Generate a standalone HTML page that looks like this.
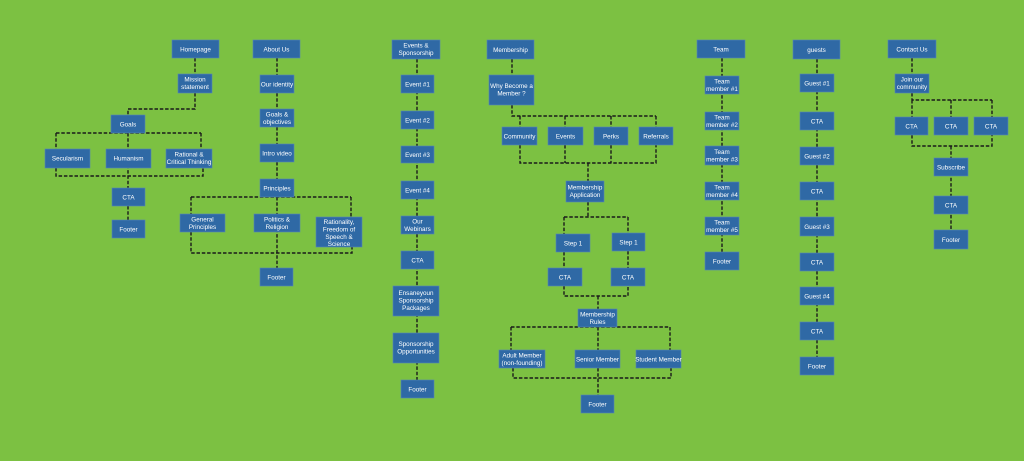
<!DOCTYPE html>
<html><head><meta charset="utf-8"><style>
html,body{margin:0;padding:0;background:#7cc142;}
svg{display:block}
text{font-family:"Liberation Sans",sans-serif;font-size:6.3px;fill:#fff;text-anchor:middle}
rect{fill:#2f69a5;stroke:#5585b8;stroke-width:0.6}
path{fill:none;stroke:#1a1a1a;stroke-width:1.4;stroke-dasharray:3.5 1.8}
</style></head><body>
<svg width="1024" height="461" viewBox="0 0 1024 461" xmlns="http://www.w3.org/2000/svg">
<rect x="0" y="0" width="1024" height="461" style="fill:#7cc142;stroke:none"/>
<path d="M195 58V74M195 93V109H128V115M128 133V188M56 133H201M56 133V149M201 133V149M56 168V176H203V168M128 206V220"/>
<path d="M277 58V75M277 93V109M277 127V144M277 162V179M277 197V268M191 197H351M191 197V214M351 197V217M191 232V253H352V247"/>
<path d="M417 59V380"/>
<path d="M512 59V75M512 105V116H656M520 116V127M565 116V127M611 116V127M656 116V127M520 145V163H656V145M565 145V163M611 145V163M588 163V181M588 202V217M564 217H628M564 217V234M628 217V233M564 252V268M628 251V268M564 286V296H628V286M598 296V309M511 327H670M511 327V350M598 327V350M670 327V350M513 368V378H671V368M598 368V395"/>
<path d="M722 58V252"/>
<path d="M817 59V357"/>
<path d="M912 58V74M912 93V100H992M912 100V117M951 100V117M992 100V117M912 135V146H992V135M951 146V230"/>
<rect x="172" y="40" width="47" height="18"/><text x="195.5" y="51.5">Homepage</text>
<rect x="178" y="74" width="34" height="19"/><text x="195" y="81.5">Mission</text><text x="195" y="89">statement</text>
<rect x="111" y="115" width="34" height="18"/><text x="128" y="126.5">Goals</text>
<rect x="45" y="149" width="45" height="19"/><text x="67.5" y="160.5">Secularism</text>
<rect x="106" y="149" width="45" height="19"/><text x="128.5" y="160.5">Humanism</text>
<rect x="166" y="149" width="46" height="19"/><text x="189" y="156.5">Rational &amp;</text><text x="189" y="164">Critical Thinking</text>
<rect x="112" y="188" width="33" height="18"/><text x="128.5" y="199.5">CTA</text>
<rect x="112" y="220" width="33" height="18"/><text x="128.5" y="231.5">Footer</text>
<rect x="253" y="40" width="47" height="18"/><text x="276.5" y="51.5">About Us</text>
<rect x="260" y="75" width="34" height="18"/><text x="277" y="86.5">Our identity</text>
<rect x="260" y="109" width="34" height="18"/><text x="277" y="116.5">Goals &amp;</text><text x="277" y="124">objectives</text>
<rect x="260" y="144" width="34" height="18"/><text x="277" y="155.5">Intro video</text>
<rect x="260" y="179" width="34" height="18"/><text x="277" y="190.5">Principles</text>
<rect x="180" y="214" width="45" height="18"/><text x="202.5" y="221.5">General</text><text x="202.5" y="229">Principles</text>
<rect x="254" y="214" width="46" height="18"/><text x="277" y="221.5">Politics &amp;</text><text x="277" y="229">Religion</text>
<rect x="316" y="217" width="46" height="30"/><text x="339" y="224">Rationality,</text><text x="339" y="231.5">Freedom of</text><text x="339" y="239">Speech &amp;</text><text x="339" y="246">Science</text>
<rect x="260" y="268" width="33" height="18"/><text x="276.5" y="279.5">Footer</text>
<rect x="392" y="40" width="48" height="19"/><text x="416" y="47.5">Events &amp;</text><text x="416" y="55">Sponsorship</text>
<rect x="401" y="75" width="33" height="18"/><text x="417.5" y="86.5">Event #1</text>
<rect x="401" y="111" width="33" height="18"/><text x="417.5" y="122.5">Event #2</text>
<rect x="401" y="146" width="33" height="17"/><text x="417.5" y="157">Event #3</text>
<rect x="401" y="181" width="33" height="18"/><text x="417.5" y="192.5">Event #4</text>
<rect x="401" y="216" width="33" height="18"/><text x="417.5" y="223.5">Our</text><text x="417.5" y="231">Webinars</text>
<rect x="401" y="251" width="33" height="18"/><text x="417.5" y="262.5">CTA</text>
<rect x="393" y="286" width="46" height="30"/><text x="416" y="295">Ensaneyoun</text><text x="416" y="302.5">Sponsorship</text><text x="416" y="310">Packages</text>
<rect x="393" y="333" width="46" height="30"/><text x="416" y="346">Sponsorship</text><text x="416" y="353.5">Opportunities</text>
<rect x="401" y="380" width="33" height="18"/><text x="417.5" y="391.5">Footer</text>
<rect x="487" y="40" width="47" height="19"/><text x="510.5" y="52">Membership</text>
<rect x="489" y="75" width="45" height="30"/><text x="511.5" y="88">Why Become a</text><text x="511.5" y="95.5">Member ?</text>
<rect x="502" y="127" width="35" height="18"/><text x="519.5" y="138.5">Community</text>
<rect x="548" y="127" width="35" height="18"/><text x="565.5" y="138.5">Events</text>
<rect x="594" y="127" width="34" height="18"/><text x="611" y="138.5">Perks</text>
<rect x="639" y="127" width="34" height="18"/><text x="656" y="138.5">Referrals</text>
<rect x="566" y="181" width="38" height="21"/><text x="585" y="189.5">Membership</text><text x="585" y="197">Application</text>
<rect x="556" y="234" width="34" height="18"/><text x="573" y="245.5">Step 1</text>
<rect x="612" y="233" width="33" height="18"/><text x="628.5" y="244.5">Step 1</text>
<rect x="548" y="268" width="34" height="18"/><text x="565" y="279.5">CTA</text>
<rect x="611" y="268" width="34" height="18"/><text x="628" y="279.5">CTA</text>
<rect x="578" y="309" width="39" height="18"/><text x="597.5" y="316.5">Membership</text><text x="597.5" y="324">Rules</text>
<rect x="499" y="350" width="46" height="18"/><text x="522" y="357.5">Adult Member</text><text x="522" y="365">(non-founding)</text>
<rect x="575" y="350" width="45" height="18"/><text x="597.5" y="361.5">Senior Member</text>
<rect x="636" y="350" width="45" height="18"/><text x="658.5" y="361.5">Student Member</text>
<rect x="581" y="395" width="33" height="18"/><text x="597.5" y="406.5">Footer</text>
<rect x="697" y="40" width="48" height="18"/><text x="721" y="51.5">Team</text>
<rect x="705" y="76" width="34" height="18"/><text x="722" y="83.5">Team</text><text x="722" y="91">member #1</text>
<rect x="705" y="112" width="34" height="18"/><text x="722" y="119.5">Team</text><text x="722" y="127">member #2</text>
<rect x="705" y="146" width="34" height="19"/><text x="722" y="154">Team</text><text x="722" y="161.5">member #3</text>
<rect x="705" y="182" width="34" height="18"/><text x="722" y="189.5">Team</text><text x="722" y="197">member #4</text>
<rect x="705" y="217" width="34" height="18"/><text x="722" y="224.5">Team</text><text x="722" y="232">member #5</text>
<rect x="705" y="252" width="34" height="18"/><text x="722" y="263.5">Footer</text>
<rect x="793" y="40" width="47" height="19"/><text x="816.5" y="52">guests</text>
<rect x="800" y="74" width="34" height="18"/><text x="817" y="85.5">Guest #1</text>
<rect x="800" y="112" width="34" height="18"/><text x="817" y="123.5">CTA</text>
<rect x="800" y="147" width="34" height="18"/><text x="817" y="158.5">Guest #2</text>
<rect x="800" y="182" width="34" height="18"/><text x="817" y="193.5">CTA</text>
<rect x="800" y="217" width="34" height="19"/><text x="817" y="229">Guest #3</text>
<rect x="800" y="253" width="34" height="18"/><text x="817" y="264.5">CTA</text>
<rect x="800" y="287" width="34" height="18"/><text x="817" y="298.5">Guest #4</text>
<rect x="800" y="322" width="34" height="18"/><text x="817" y="333.5">CTA</text>
<rect x="800" y="357" width="34" height="18"/><text x="817" y="368.5">Footer</text>
<rect x="888" y="40" width="48" height="18"/><text x="912" y="51.5">Contact Us</text>
<rect x="895" y="74" width="34" height="19"/><text x="912" y="81.5">Join our</text><text x="912" y="89">community</text>
<rect x="895" y="117" width="33" height="18"/><text x="911.5" y="128.5">CTA</text>
<rect x="934" y="117" width="34" height="18"/><text x="951" y="128.5">CTA</text>
<rect x="974" y="117" width="34" height="18"/><text x="991" y="128.5">CTA</text>
<rect x="934" y="158" width="34" height="18"/><text x="951" y="169.5">Subscribe</text>
<rect x="934" y="196" width="34" height="18"/><text x="951" y="207.5">CTA</text>
<rect x="934" y="230" width="34" height="19"/><text x="951" y="242">Footer</text>
</svg>
</body></html>
